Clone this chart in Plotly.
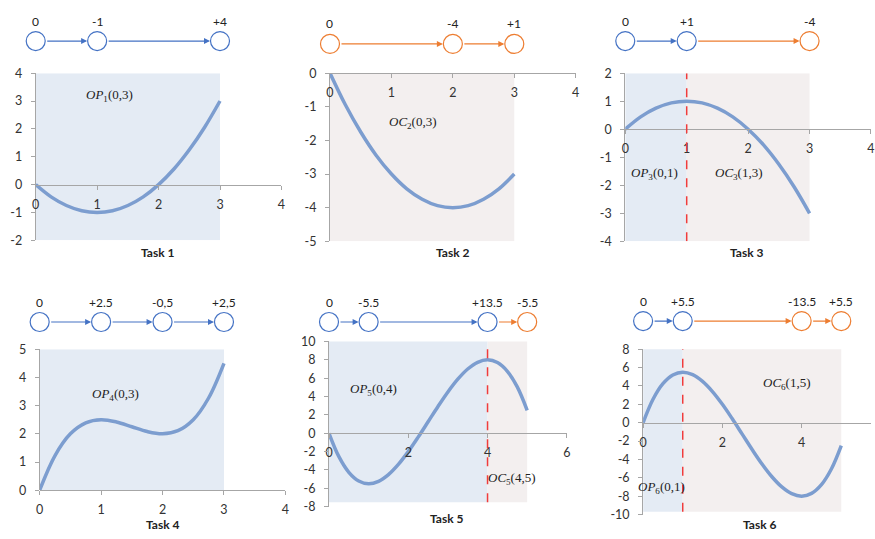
import plotly.graph_objects as go

W, H = 875, 539

BLUE = '#4472C4'
ORANGE = '#ED7D31'
CURVE = '#7C9DCF'
OP_FILL = '#E4EBF4'
OC_FILL = '#F3EFEF'
AXIS = '#A6A6A6'
TXT = '#333333'

# ---- values ----
task_names = ['Task 1', 'Task 2', 'Task 3', 'Task 4', 'Task 5', 'Task 6']

t1_x = [0, 0.25, 0.5, 0.75, 1, 1.25, 1.5, 1.75, 2, 2.25, 2.5, 2.75, 3]
t1_y = [0, -0.44, -0.75, -0.94, -1, -0.94, -0.75, -0.44, 0, 0.56, 1.25, 2.06, 3]
t2_x = [0, 0.25, 0.5, 0.75, 1, 1.25, 1.5, 1.75, 2, 2.25, 2.5, 2.75, 3]
t2_y = [0, -0.94, -1.75, -2.44, -3, -3.44, -3.75, -3.94, -4, -3.94, -3.75, -3.44, -3]
t3_x = [0, 0.25, 0.5, 0.75, 1, 1.25, 1.5, 1.75, 2, 2.25, 2.5, 2.75, 3]
t3_y = [0, 0.44, 0.75, 0.94, 1, 0.94, 0.75, 0.44, 0, -0.56, -1.25, -2.06, -3]
t4_x = [0, 0.25, 0.5, 0.75, 1, 1.25, 1.5, 1.75, 2, 2.25, 2.5, 2.75, 3]
t4_y = [0, 1.23, 2, 2.39, 2.5, 2.42, 2.25, 2.08, 2, 2.11, 2.5, 3.27, 4.5]
t5_x = [0, 0.25, 0.5, 0.75, 1, 1.25, 1.5, 1.75, 2, 2.25, 2.5, 2.75, 3,
        3.25, 3.5, 3.75, 4, 4.25, 4.5, 4.75, 5]
t5_y = [0, -2.55, -4.25, -5.2, -5.5, -5.23, -4.5, -3.39, -2, -0.42, 1.25, 2.92, 4.5,
        5.89, 7, 7.73, 8, 7.7, 6.75, 5.05, 2.5]
t6_x = [0, 0.25, 0.5, 0.75, 1, 1.25, 1.5, 1.75, 2, 2.25, 2.5, 2.75, 3,
        3.25, 3.5, 3.75, 4, 4.25, 4.5, 4.75, 5]
t6_y = [0, 2.55, 4.25, 5.2, 5.5, 5.23, 4.5, 3.39, 2, 0.42, -1.25, -2.92, -4.5,
        -5.89, -7, -7.73, -8, -7.7, -6.75, -5.05, -2.5]

# chain diagrams above each chart: node positions (x), step labels, OP/OC type
t1_nodes = [0, 1, 3]
t1_steps = ['0', '-1', '+4']
t1_types = ['P', 'P', 'P']
t2_nodes = [0, 2, 3]
t2_steps = ['0', '-4', '+1']
t2_types = ['C', 'C', 'C']
t3_nodes = [0, 1, 3]
t3_steps = ['0', '+1', '-4']
t3_types = ['P', 'P', 'C']
t4_nodes = [0, 1, 2, 3]
t4_steps = ['0', '+2.5', '-0,5', '+2,5']
t4_types = ['P', 'P', 'P', 'P']
t5_nodes = [0, 1, 4, 5]
t5_steps = ['0', '-5.5', '+13.5', '-5.5']
t5_types = ['P', 'P', 'P', 'C']
t6_nodes = [0, 1, 4, 5]
t6_steps = ['0', '+5.5', '-13.5', '+5.5']
t6_types = ['P', 'P', 'C', 'C']

# OP / OC intervals
t1_op, t1_oc = [0, 3], None
t2_op, t2_oc = None, [0, 3]
t3_op, t3_oc = [0, 1], [1, 3]
t4_op, t4_oc = [0, 3], None
t5_op, t5_oc = [0, 4], [4, 5]
t6_op, t6_oc = [0, 1], [1, 5]

# tick labels
t1_xticks, t1_yticks = [0, 1, 2, 3, 4], [-2, -1, 0, 1, 2, 3, 4]
t2_xticks, t2_yticks = [0, 1, 2, 3, 4], [-5, -4, -3, -2, -1, 0]
t3_xticks, t3_yticks = [0, 1, 2, 3, 4], [-4, -3, -2, -1, 0, 1, 2]
t4_xticks, t4_yticks = [0, 1, 2, 3, 4], [0, 1, 2, 3, 4, 5]
t5_xticks, t5_yticks = [0, 2, 4, 6], [-8, -6, -4, -2, 0, 2, 4, 6, 8, 10]
t6_xticks, t6_yticks = [0, 2, 4], [-10, -8, -6, -4, -2, 0, 2, 4, 6, 8]

panels = [
    dict(x=t1_x, y=t1_y, nodes=t1_nodes, steps=t1_steps, types=t1_types, op=t1_op, oc=t1_oc, xt=t1_xticks, yt=t1_yticks),
    dict(x=t2_x, y=t2_y, nodes=t2_nodes, steps=t2_steps, types=t2_types, op=t2_op, oc=t2_oc, xt=t2_xticks, yt=t2_yticks),
    dict(x=t3_x, y=t3_y, nodes=t3_nodes, steps=t3_steps, types=t3_types, op=t3_op, oc=t3_oc, xt=t3_xticks, yt=t3_yticks),
    dict(x=t4_x, y=t4_y, nodes=t4_nodes, steps=t4_steps, types=t4_types, op=t4_op, oc=t4_oc, xt=t4_xticks, yt=t4_yticks),
    dict(x=t5_x, y=t5_y, nodes=t5_nodes, steps=t5_steps, types=t5_types, op=t5_op, oc=t5_oc, xt=t5_xticks, yt=t5_yticks),
    dict(x=t6_x, y=t6_y, nodes=t6_nodes, steps=t6_steps, types=t6_types, op=t6_op, oc=t6_oc, xt=t6_xticks, yt=t6_yticks),
]

# ---- geometry (pixels) ----
geo = [
    dict(px=(32, 280), py=(67, 239), xr=[0, 4], yr=[-2, 4], shade=[-2, 4], node=34,
         title=(155, 252), lab={'OP': (1.2, 3.2)}),
    dict(px=(329, 577), py=(67, 240), xr=[0, 4], yr=[-5, 0], shade=[-5, 0], node=37,
         title=(453, 252), lab={'OC': (1.35, -1.47)}),
    dict(px=(627, 875), py=(67, 240), xr=[0, 4], yr=[-4, 2], shade=[-4, 2], node=34,
         title=(750, 252), lab={'OP': (0.47, -1.57), 'OC': (1.85, -1.57)}),
    dict(px=(36, 284), py=(351, 496), xr=[0, 4], yr=[0, 5], shade=[0, 5], node=323,
         title=(160, 531), lab={'OP': (1.23, 3.41)}),
    dict(px=(328, 568), py=(343, 513), xr=[0, 6], yr=[-8, 10], shade=[-7.5, 10.4], node=323,
         title=(447, 525), lab={'OP': (1.12, 4.8), 'OC': (4.62, -4.94)}),
    dict(px=(645, 875), py=(351, 521), xr=[0, 5.75], yr=[-10, 8], shade=[-9.7, 8.2], node=322,
         title=(763, 531), lab={'OP': (0.47, -7.04), 'OC': (3.62, 4.3)}),
]

fig = go.Figure()
shapes = []
annotations = []
axes = {}

for i, (p, g) in enumerate(zip(panels, geo)):
    n = i + 1
    xa = 'x' if n == 1 else 'x%d' % n
    ya = 'y' if n == 1 else 'y%d' % n
    da = 'y%d' % (n + 6)
    xd = [g['px'][0] / W, g['px'][1] / W]
    yd = [1 - g['py'][1] / H, 1 - g['py'][0] / H]
    yr = g['yr']
    zero = yd[0] + (0 - yr[0]) / (yr[1] - yr[0]) * (yd[1] - yd[0])

    axes['xaxis' if n == 1 else 'xaxis%d' % n] = dict(
        domain=xd, range=g['xr'], anchor='free', position=zero,
        tickvals=p['xt'], ticktext=[str(v) for v in p['xt']],
        ticks='outside', ticklen=4, tickcolor=AXIS,
        showline=True, linecolor=AXIS, linewidth=1, showgrid=False, zeroline=False,
        tickfont=dict(family='Lato', size=12.5, color=TXT), ticklabelstandoff=4)
    axes['yaxis' if n == 1 else 'yaxis%d' % n] = dict(
        domain=yd, range=yr, anchor=xa,
        tickvals=p['yt'], ticktext=[str(v) for v in p['yt']],
        ticks='outside', ticklen=4, tickcolor=AXIS,
        showline=True, linecolor=AXIS, linewidth=1, showgrid=False, zeroline=False,
        tickfont=dict(family='Lato', size=12.5, color=TXT), ticklabelstandoff=6)
    axes['yaxis%d' % (n + 6)] = dict(
        domain=[1 - (g['node'] + 20) / H, 1 - (g['node'] - 20) / H],
        range=[-1, 1], anchor=xa, visible=False)

    # shaded OP / OC zones
    for kind, rng, fill in (('OP', p['op'], OP_FILL), ('OC', p['oc'], OC_FILL)):
        if rng is None:
            continue
        shapes.append(dict(type='rect', xref=xa, yref=ya, x0=rng[0], x1=rng[1],
                           y0=g['shade'][0], y1=g['shade'][1],
                           fillcolor=fill, line=dict(width=0), layer='below'))
        lx, ly = g['lab'][kind]
        annotations.append(dict(
            xref=xa, yref=ya, x=lx, y=ly, showarrow=False,
            xanchor='center', yanchor='middle',
            text='<i>%s</i><sub>%d</sub>(%g,%g)' % (kind, n, rng[0], rng[1]),
            font=dict(family='Liberation Serif', size=13, color='#222222')))
    if p['op'] is not None and p['oc'] is not None:
        shapes.append(dict(type='line', xref=xa, yref=ya, x0=p['op'][1], x1=p['op'][1],
                           y0=g['shade'][0], y1=g['shade'][1],
                           line=dict(color='#F03C3C', width=1.5, dash='dash'), layer='above'))

    fig.add_trace(go.Scatter(
        x=p['x'], y=p['y'], mode='lines', xaxis=xa, yaxis=ya,
        line=dict(color=CURVE, width=3.5, shape='spline'), hoverinfo='skip'))

    # chain diagram
    cols = [BLUE if t == 'P' else ORANGE for t in p['types']]
    fig.add_trace(go.Scatter(
        x=p['nodes'], y=[0] * len(p['nodes']), mode='markers', xaxis=xa, yaxis=da,
        cliponaxis=False,
        marker=dict(size=19, color='white', line=dict(color=cols, width=1.2)),
        hoverinfo='skip'))
    for j in range(len(p['nodes'])):
        annotations.append(dict(
            xref=xa, yref=da, x=p['nodes'][j], y=0, yshift=20, showarrow=False,
            xanchor='center', yanchor='middle', text=p['steps'][j],
            font=dict(family='Lato', size=12, color='#222222')))
    for j in range(len(p['nodes']) - 1):
        annotations.append(dict(
            xref=xa, yref=da, axref=xa, ayref=da,
            x=p['nodes'][j + 1], y=0, ax=p['nodes'][j], ay=0, text='',
            showarrow=True, arrowhead=2, arrowsize=1, arrowwidth=1.2,
            arrowcolor=cols[j + 1], standoff=10, startstandoff=10))

    annotations.append(dict(
        xref='paper', yref='paper', x=g['title'][0] / W, y=1 - g['title'][1] / H,
        xanchor='center', yanchor='middle',
        text='<b>%s</b>' % task_names[i], showarrow=False,
        font=dict(family='Lato', size=12, color='#222222')))

fig.update_layout(
    width=W, height=H, margin=dict(l=0, r=0, t=0, b=0),
    paper_bgcolor='white', plot_bgcolor='rgba(0,0,0,0)',
    showlegend=False, shapes=shapes, annotations=annotations, **axes)

fig.write_html("out.html", config={'displayModeBar': False},
               post_script="document.body.style.margin='0px';")
